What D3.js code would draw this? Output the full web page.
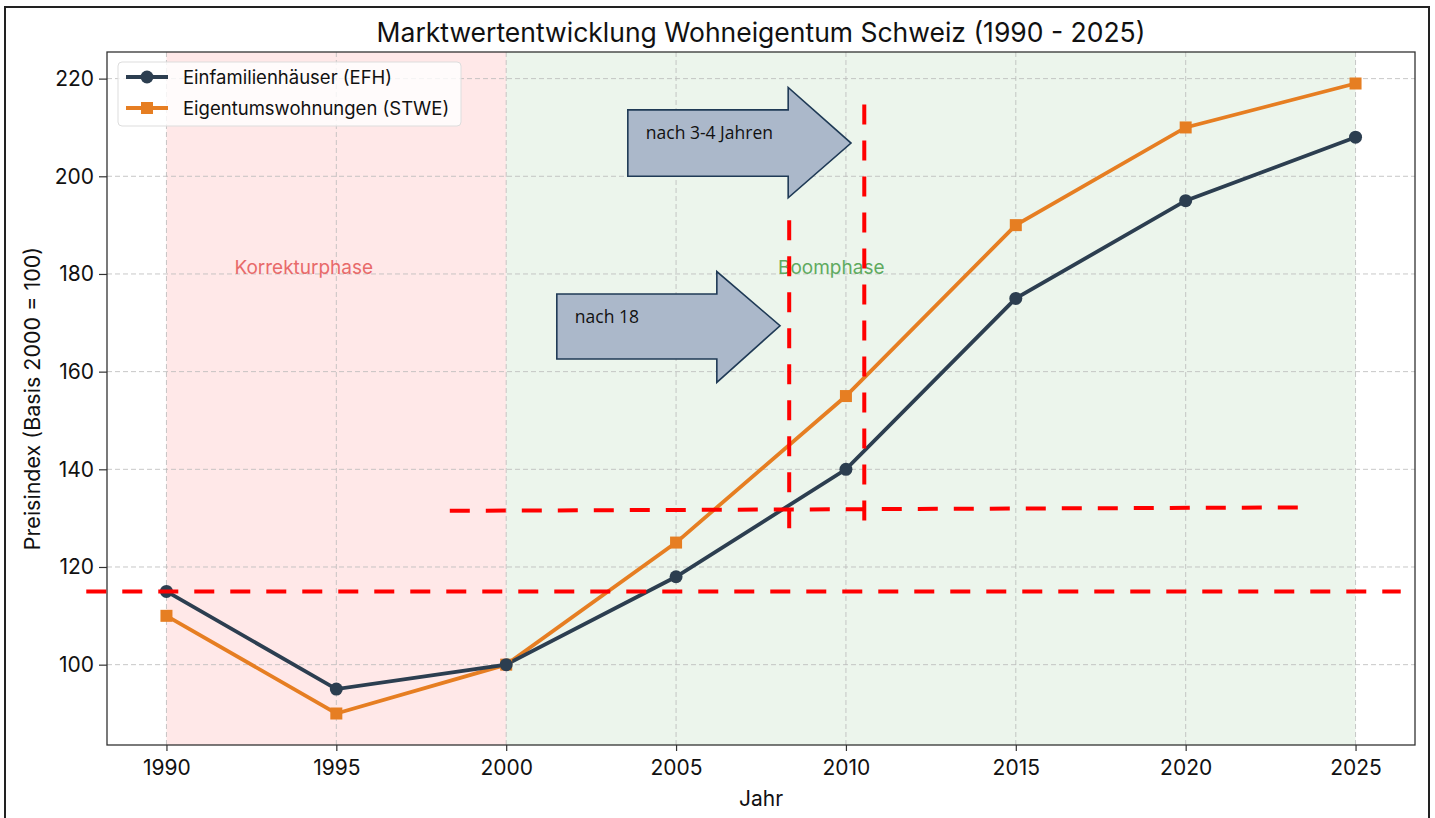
<!DOCTYPE html>
<html>
<head>
<meta charset="utf-8">
<script src="https://cdn.jsdelivr.net/npm/d3@7"></script>
<style>
  body { margin: 0; background: #fff; }
  text { font-family: "Inter", "Noto Sans", sans-serif; }
</style>
</head>
<body>
<div id="chart"></div>
<script>
// data
var years = [1990, 1995, 2000, 2005, 2010, 2015, 2020, 2025];
var efh = [115, 95, 100, 118, 140, 175, 195, 208];
var stwe = [110, 90, 100, 125, 155, 190, 210, 219];
var yTicks = [100, 120, 140, 160, 180, 200, 220];
var seriesNames = ["Einfamilienhäuser (EFH)", "Eigentumswohnungen (STWE)"];

var W = 1435, H = 818;
var margin = {top: 52, right: 20, bottom: 73, left: 107},
    width = W - margin.left - margin.right,
    height = H - margin.top - margin.bottom;

var svg = d3.select("#chart").append("svg")
    .attr("width", W).attr("height", H);

// outer frame of the screenshot
svg.append("rect")
    .attr("x", 5).attr("y", 7).attr("width", 1424).attr("height", 830)
    .attr("fill", "none").attr("stroke", "#222").attr("stroke-width", 2);

var g = svg.append("g").attr("transform", "translate(" + margin.left + "," + margin.top + ")");

var x = d3.scaleLinear().domain([1988.25, 2026.75]).range([0, width]);
var y = d3.scaleLinear().domain([83.55, 225.45]).range([height, 0]);

// phase spans
g.append("rect")
    .attr("x", x(1990)).attr("width", x(2000) - x(1990))
    .attr("y", 0).attr("height", height)
    .attr("fill", "#ff0000").attr("opacity", 0.09);
g.append("rect")
    .attr("x", x(2000)).attr("width", x(2025) - x(2000))
    .attr("y", 0).attr("height", height)
    .attr("fill", "#2e8b2e").attr("opacity", 0.09);

// grid
g.append("g").selectAll("line").data(years).enter().append("line")
    .attr("x1", d => x(d)).attr("x2", d => x(d))
    .attr("y1", 0).attr("y2", height)
    .attr("stroke", "#bbb").attr("stroke-dasharray", "5,3").attr("opacity", 0.8);
g.append("g").selectAll("line").data(yTicks).enter().append("line")
    .attr("y1", d => y(d)).attr("y2", d => y(d))
    .attr("x1", 0).attr("x2", width)
    .attr("stroke", "#bbb").attr("stroke-dasharray", "5,3").attr("opacity", 0.8);

// phase labels
g.append("text").attr("x", x(1992)).attr("y", y(180))
    .attr("fill", "#e86a6a").attr("font-size", 19).text("Korrekturphase");
g.append("text").attr("x", x(2008)).attr("y", y(180))
    .attr("fill", "#5faa5f").attr("font-size", 19).text("Boomphase");

// lines
var line = d3.line().x((d, i) => x(years[i])).y(d => y(d));
g.append("path").datum(stwe).attr("d", line)
    .attr("fill", "none").attr("stroke", "#e67e22").attr("stroke-width", 3.8);
g.append("path").datum(efh).attr("d", line)
    .attr("fill", "none").attr("stroke", "#2c3e50").attr("stroke-width", 3.8);

g.append("g").selectAll("rect").data(stwe).enter().append("rect")
    .attr("x", (d, i) => x(years[i]) - 6).attr("y", d => y(d) - 6)
    .attr("width", 12).attr("height", 12).attr("fill", "#e67e22");
g.append("g").selectAll("circle").data(efh).enter().append("circle")
    .attr("cx", (d, i) => x(years[i])).attr("cy", d => y(d))
    .attr("r", 6.5).attr("fill", "#2c3e50");

// axes
var xAxis = g.append("g").attr("transform", "translate(0," + height + ")")
    .call(d3.axisBottom(x).tickValues(years).tickFormat(d3.format("d")).tickSize(6).tickPadding(7));
var yAxis = g.append("g")
    .call(d3.axisLeft(y).tickValues(yTicks).tickSize(8).tickPadding(5));
[xAxis, yAxis].forEach(function(a) {
  a.select(".domain").remove();
  a.selectAll(".tick line").attr("stroke", "#333").attr("stroke-width", 1.2);
  a.selectAll(".tick text").attr("fill", "#111").style("font-size", "21px").style("font-family", "Inter, sans-serif");
});
xAxis.selectAll(".tick text").attr("dy", "0.8em");

g.append("rect").attr("width", width).attr("height", height)
    .attr("fill", "none").attr("stroke", "#333").attr("stroke-width", 1.3);

// titles
svg.append("text").attr("x", margin.left + width / 2).attr("y", 42)
    .attr("text-anchor", "middle").attr("font-size", 26.5).attr("fill", "#111")
    .text("Marktwertentwicklung Wohneigentum Schweiz (1990 - 2025)");
svg.append("text").attr("x", margin.left + width / 2).attr("y", 806)
    .attr("text-anchor", "middle").attr("font-size", 21).attr("fill", "#111").text("Jahr");
svg.append("text")
    .attr("transform", "translate(40," + (margin.top + height / 2) + ") rotate(-90)")
    .attr("text-anchor", "middle").attr("font-size", 21.5).attr("fill", "#111")
    .text("Preisindex (Basis 2000 = 100)");

// legend
var leg = svg.append("g").attr("transform", "translate(118,62)");
leg.append("rect").attr("width", 343).attr("height", 64).attr("rx", 4)
    .attr("fill", "#fff").attr("fill-opacity", 0.8).attr("stroke", "#ddd");
var legColors = ["#2c3e50", "#e67e22"];
seriesNames.forEach(function(n, i) {
  var ly = 15 + i * 31;
  leg.append("line").attr("x1", 8).attr("x2", 50).attr("y1", ly).attr("y2", ly)
      .attr("stroke", legColors[i]).attr("stroke-width", 3.8);
  if (i === 0) leg.append("circle").attr("cx", 29).attr("cy", ly).attr("r", 6.5).attr("fill", legColors[i]);
  else leg.append("rect").attr("x", 23).attr("y", ly - 6).attr("width", 12).attr("height", 12).attr("fill", legColors[i]);
  leg.append("text").attr("x", 65).attr("y", ly + 6.5).attr("font-size", 18.5).attr("fill", "#111").text(n);
});

// hand-drawn annotations (data coordinates)
var redDash = {stroke: "#ff0000", width: 4, dash: "20,16"};
var marks = [
  [[1987.64, 115], [2026.33, 115]],
  [[1998.34, 131.5], [2023.38, 132.2]],
  [[2008.33, 191], [2008.33, 127.6]],
  [[2010.54, 214.7], [2010.54, 129]]
];
marks.forEach(function(m) {
  svg.append("line")
      .attr("x1", margin.left + x(m[0][0])).attr("y1", margin.top + y(m[0][1]))
      .attr("x2", margin.left + x(m[1][0])).attr("y2", margin.top + y(m[1][1]))
      .attr("stroke", redDash.stroke).attr("stroke-width", redDash.width)
      .attr("stroke-dasharray", redDash.dash);
});

// block arrows: [left, headBase, tip, bodyTop, bodyBottom, headTop, headBottom, tipY]
var arrows = [
  {a: [2003.58, 2008.30, 2010.15, 213.6, 200.0, 218.2, 195.6, 206.8], label: "nach 3-4 Jahren"},
  {a: [2001.49, 2006.20, 2008.06, 175.9, 162.6, 180.5, 157.8, 169.4], label: "nach 18"}
];
arrows.forEach(function(ar) {
  var a = ar.a;
  var pts = [[a[0], a[3]], [a[1], a[3]], [a[1], a[5]], [a[2], a[7]], [a[1], a[6]], [a[1], a[4]], [a[0], a[4]]]
      .map(p => [margin.left + x(p[0]), margin.top + y(p[1])]);
  svg.append("path").attr("d", "M" + pts.join("L") + "Z")
      .attr("fill", "#abb8ca").attr("stroke", "#1f3a56").attr("stroke-width", 1.6);
  svg.append("text").attr("x", pts[0][0] + 18).attr("y", pts[0][1] + 29)
      .attr("font-size", 17.5).attr("fill", "#111").style("font-family", "'Open Sans', 'Liberation Sans', sans-serif")
      .text(ar.label);
});
</script>
</body>
</html>
